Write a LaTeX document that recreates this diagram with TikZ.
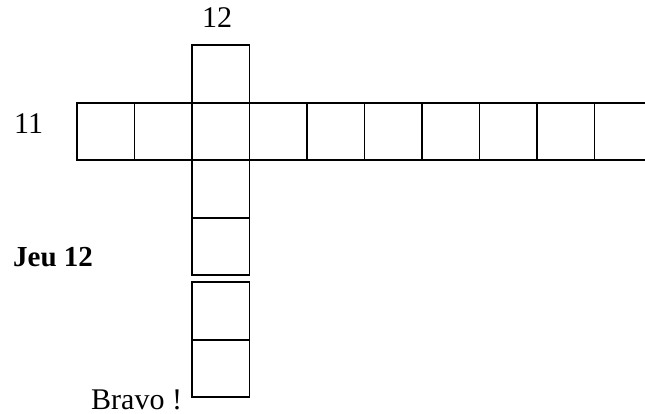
\documentclass[tikz,border=0pt]{standalone}
\usepackage{fontspec}
\setmainfont{Liberation Serif}
\begin{document}
\begin{tikzpicture}[x=1pt,y=-1pt,
  cell/.style={draw=black,line width=1.8pt},
  lbl/.style={anchor=base west,inner sep=0pt,font=\fontsize{30}{36}\selectfont}]
\useasboundingbox (0,0) rectangle (645,414);
\clip (0,0) rectangle (645,414);
% horizontal word (11)
\foreach \i in {0,...,9} {
  \draw[cell] ({77+57.5*\i},103) rectangle ({134.5+57.5*\i},160);
}
% vertical word (12)
\draw[cell] (192,45) rectangle (249.5,103);
\draw[cell] (192,160) rectangle (249.5,218);
\draw[cell] (192,218) rectangle (249.5,275);
\draw[cell] (192,282) rectangle (249.5,340);
\draw[cell] (192,340) rectangle (249.5,397);
% labels
\node[lbl] (n12) at (202,28) {12};
\node[lbl] (n11) at (14,134) {11};
\node[lbl,font=\fontsize{29}{34}\selectfont\bfseries] (jeu) at (13,266) {Jeu 12};
\node[lbl] (bravo) at (91,409) {Bravo !};
\end{tikzpicture}
\end{document}
